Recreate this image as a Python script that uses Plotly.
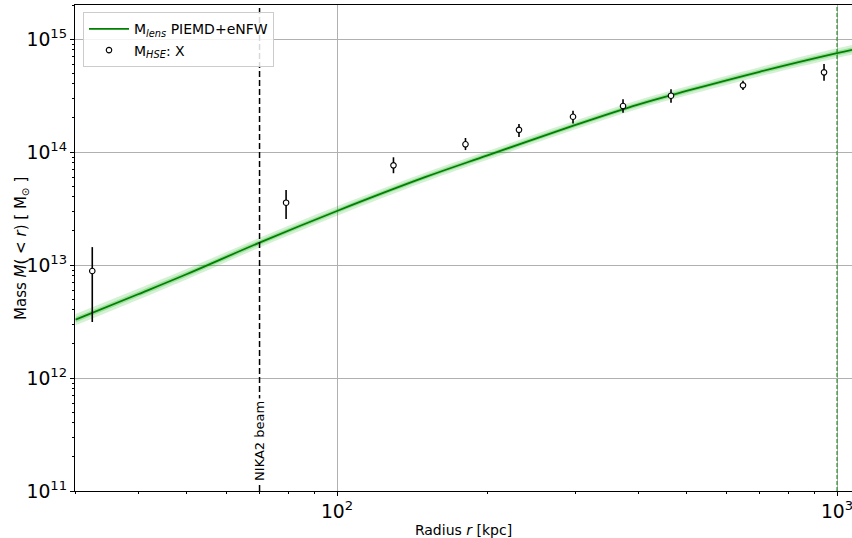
import numpy as np
import plotly.graph_objects as go

# ---- data ----
model_r = [30, 40, 50, 70, 100, 150, 200, 300, 400, 500, 700, 1000, 1075]
model_logM = [12.516, 12.741, 12.918, 13.198, 13.478, 13.777, 13.97, 14.24, 14.42, 14.54, 14.71, 14.875, 14.905]
band_inner_dex = [0.024, 0.023, 0.022, 0.021, 0.020, 0.019, 0.019, 0.019, 0.019, 0.019, 0.020, 0.021, 0.021]
band_outer_dex = [0.050, 0.048, 0.046, 0.044, 0.042, 0.040, 0.039, 0.039, 0.039, 0.040, 0.041, 0.043, 0.044]

hse_r = [32.4, 79.1, 129.7, 180.7, 231.2, 296.5, 373.3, 465.6, 648.6, 942]
hse_M = [8.85e12, 3.56e13, 7.62e13, 1.17e14, 1.57e14, 2.05e14, 2.55e14, 3.15e14, 3.89e14, 5.07e14]
hse_hi = [1.44e13, 4.61e13, 8.98e13, 1.33e14, 1.77e14, 2.32e14, 2.93e14, 3.59e14, 4.28e14, 6.01e14]
hse_lo = [3.13e12, 2.55e13, 6.49e13, 1.04e14, 1.36e14, 1.79e14, 2.23e14, 2.73e14, 3.54e14, 4.28e14]

nika2_beam_r = 70
r500 = 1000

# ---- figure ----
model_M = [10 ** v for v in model_logM]
fig = go.Figure()

for dex, alpha in [(band_outer_dex, 0.17), (band_inner_dex, 0.25)]:
    up = [10 ** (m + d) for m, d in zip(model_logM, dex)]
    dn = [10 ** (m - d) for m, d in zip(model_logM, dex)]
    fig.add_trace(go.Scatter(x=model_r, y=up, mode="lines", line=dict(width=0, shape="spline"),
                             showlegend=False, hoverinfo="skip"))
    fig.add_trace(go.Scatter(x=model_r, y=dn, mode="lines", line=dict(width=0, shape="spline"),
                             fill="tonexty", fillcolor=f"rgba(0,170,0,{alpha})",
                             showlegend=False, hoverinfo="skip"))

fig.add_trace(go.Scatter(x=model_r, y=model_M, mode="lines",
                         line=dict(color="#008000", width=1.8, shape="spline"),
                         name="M<sub><i>lens</i></sub> PIEMD+eNFW", legendrank=1))

fig.add_trace(go.Scatter(
    x=hse_r, y=hse_M, mode="markers",
    marker=dict(symbol="circle", size=5.5, color="white", line=dict(color="black", width=1.1)),
    error_y=dict(type="data", symmetric=False,
                 array=[h - m for h, m in zip(hse_hi, hse_M)],
                 arrayminus=[m - l for m, l in zip(hse_M, hse_lo)],
                 color="black", thickness=1.6, width=0),
    name="M<sub><i>HSE</i></sub>: X", legendrank=2))

# vertical lines
fig.add_shape(type="line", xref="x", yref="paper", x0=nika2_beam_r, x1=nika2_beam_r, y0=0, y1=1,
              line=dict(color="black", width=1.5, dash="6px,3px"))
fig.add_shape(type="line", xref="x", yref="paper", x0=r500, x1=r500, y0=0, y1=1,
              line=dict(color="#228b22", width=1.1, dash="4px,2px"))

fig.add_annotation(x=np.log10(nika2_beam_r), y=np.log10(2.75e11), text="NIKA2 beam",
                   textangle=-90, showarrow=False, bgcolor="white",
                   font=dict(family="DejaVu Sans", size=13, color="black"), borderpad=2)

# y-axis title placed as annotation to match position
fig.add_annotation(xref="paper", yref="paper", x=-0.0695, y=0.5, xanchor="center", yanchor="middle",
                   text="Mass <i>M</i>( < <i>r</i>) [ M<sub>⊙</sub> ]", textangle=-90, showarrow=False,
                   font=dict(family="DejaVu Sans", size=15, color="black"))

axis_common = dict(type="log", showline=True, linecolor="black", linewidth=1,
                   ticks="outside", ticklen=4, tickcolor="black",
                   showgrid=True, gridcolor="#b0b0b0", gridwidth=0.8,
                   dtick=1, exponentformat="power", zeroline=False,
                   ticklabeloverflow="allow",
                   minor=dict(ticks="outside", ticklen=2, tickcolor="black", dtick="D1", showgrid=False),
                   tickfont=dict(family="DejaVu Sans", size=15, color="black"))

fig.update_xaxes(**axis_common, range=[1.476, 3.030], mirror=True,
                 title=dict(text="Radius <i>r</i> [kpc]", standoff=4,
                            font=dict(family="DejaVu Sans", size=14, color="black")))
fig.update_yaxes(**axis_common, range=[11, 15.301], mirror=False)

fig.update_layout(
    width=852, height=538,
    margin=dict(l=75, r=0, t=5, b=47),
    plot_bgcolor="white", paper_bgcolor="white",
    font=dict(family="DejaVu Sans", color="black"),
    legend=dict(x=0.0103, y=0.985, xanchor="left", yanchor="top", traceorder="normal",
                bgcolor="rgba(255,255,255,0.85)", bordercolor="#cccccc", borderwidth=1,
                font=dict(family="DejaVu Sans", size=14, color="black"),
                tracegroupgap=2, itemwidth=40),
)

fig.write_html("out.html")
